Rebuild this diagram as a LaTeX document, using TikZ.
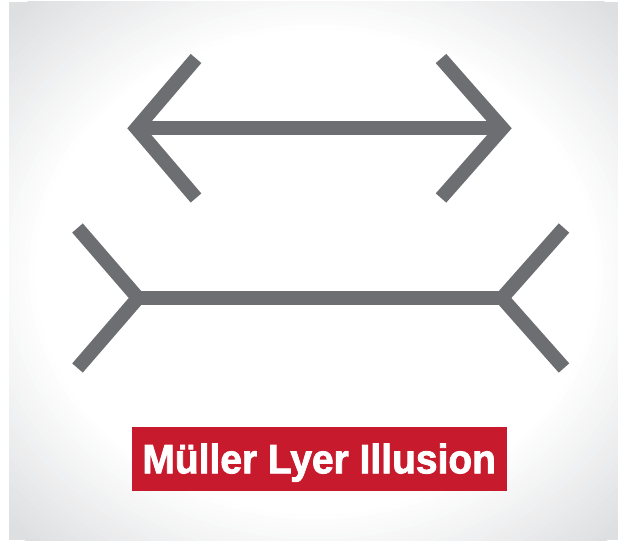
\documentclass[tikz,border=0pt]{standalone}
\usepackage{fontspec}
\newfontfamily\titlefont[FakeStretch=0.95, FakeBold=2]{Liberation Sans Bold}
\usetikzlibrary{positioning}
\definecolor{linegray}{HTML}{6D6E71}
\definecolor{boxred}{HTML}{C71A2C}
\definecolor{bgedge}{HTML}{DEDFE1}

\begin{document}
\begin{tikzpicture}[x=1pt, y=-1pt, line join=miter,
	shaft/.style={draw=linegray, line width=14pt, line cap=butt},
	fin/.style={draw=linegray, line width=14pt, line cap=butt, line join=miter, miter limit=4},
	titlebox/.style={fill=boxred, text=white, minimum width=375pt, minimum height=64.3pt, inner sep=0pt,
		text height=29pt, text depth=0pt, font=\titlefont\fontsize{41}{44}\selectfont}]

		\useasboundingbox (0,0) rectangle (618,543);
		% pale vignette behind the figures
		\begin{scope}
			\clip (9,2) rectangle (618,540);
			\fill[bgedge] (9,2) rectangle (618,540);
			\foreach \k in {0,...,25}{
				\pgfmathsetmacro\fac{1.47-0.02*\k}
				\pgfmathtruncatemacro\mix{100-4*\k}
				\fill[bgedge!\mix!white] (316,272) ellipse [x radius=290*\fac, y radius=250*\fac];
			}
		\end{scope}

		% arrow with inward heads
		\coordinate (tipL) at (136.5,128.3);
		\coordinate (tipR) at (502.4,128.3);
		\coordinate (headLU) at (196,58.5);
		\coordinate (headLD) at (196,198);
		\coordinate (headRU) at (441,58.5);
		\coordinate (headRD) at (441,198);

		% line with outward fins
		\coordinate (vertL) at (138,298);
		\coordinate (vertR) at (502,298);
		\coordinate (finLU) at (77.5,228);
		\coordinate (finLD) at (77.5,368);
		\coordinate (finRU) at (564,228);
		\coordinate (finRD) at (564,368);

		\draw[shaft] (tipL) -- (tipR);
		\draw[fin] (headLU) -- (tipL) -- (headLD);
		\draw[fin] (headRU) -- (tipR) -- (headRD);

		\draw[shaft] (vertL) -- (vertR);
		\draw[fin] (finLU) -- (vertL) -- (finLD);
		\draw[fin] (finRU) -- (vertR) -- (finRD);

		\node[titlebox] (title) at (319.2,458.8) {Müller Lyer Illusion};

\end{tikzpicture}
\end{document}
